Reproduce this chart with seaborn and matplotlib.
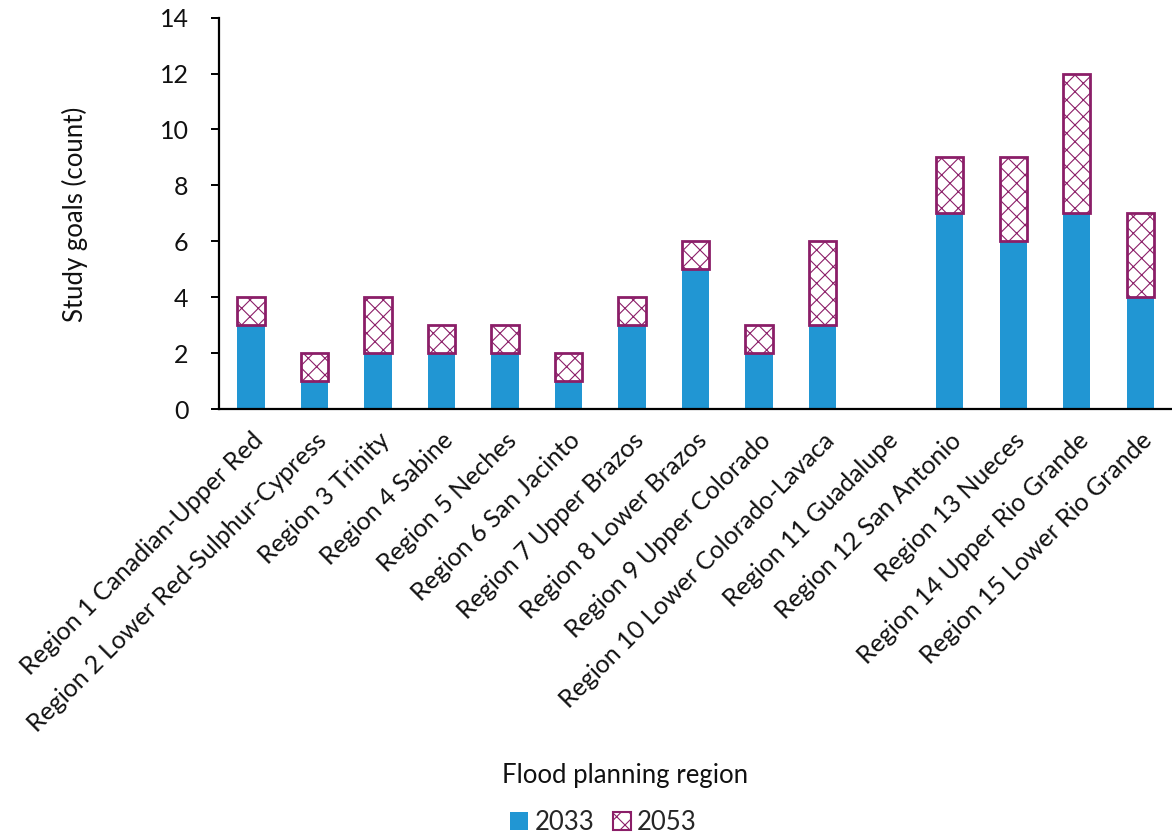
import matplotlib
matplotlib.use("Agg")
import matplotlib.pyplot as plt
from matplotlib.patches import Patch
import seaborn as sns
import pandas as pd

regions = [
    "Region 1 Canadian-Upper Red",
    "Region 2 Lower Red-Sulphur-Cypress",
    "Region 3 Trinity",
    "Region 4 Sabine",
    "Region 5 Neches",
    "Region 6 San Jacinto",
    "Region 7 Upper Brazos",
    "Region 8 Lower Brazos",
    "Region 9 Upper Colorado",
    "Region 10 Lower Colorado-Lavaca",
    "Region 11 Guadalupe",
    "Region 12 San Antonio",
    "Region 13 Nueces",
    "Region 14 Upper Rio Grande",
    "Region 15 Lower Rio Grande",
]
goals_2033 = [3, 1, 2, 2, 2, 1, 3, 5, 2, 3, 0, 7, 6, 7, 4]
goals_2053 = [1, 1, 2, 1, 1, 1, 1, 1, 1, 3, 0, 2, 3, 5, 3]
series_names = ["2033", "2053"]

BLUE = "#2196D3"
PURPLE = "#8B1E68"
TEXT = "#111111"

sns.set_theme(style="white")
plt.rcParams["font.family"] = ["Lato", "DejaVu Sans"]
plt.rcParams["hatch.color"] = PURPLE
plt.rcParams["hatch.linewidth"] = 0.8

df = pd.DataFrame({"region": regions, "y2033": goals_2033, "y2053": goals_2053})

fig = plt.figure(figsize=(11.72, 8.4), dpi=100)
ax = fig.add_axes([0.187, 0.513, 0.813, 0.466])

width = 0.43
sns.barplot(data=df, x="region", y="y2033", color=BLUE, saturation=1,
            width=width, edgecolor="none", linewidth=0, ax=ax)

# upper segment stacked on the 2033 bars, on the same categorical positions
positions = range(len(regions))
ax.bar(positions, df["y2053"], bottom=df["y2033"], width=width,
       facecolor="white", edgecolor=PURPLE, linewidth=2, hatch="xx")

ax.set_ylim(0, 14)
ax.set_yticks(range(0, 15, 2))
ax.set_xlim(-0.5, len(regions) - 0.5)

for side in ["top", "right"]:
    ax.spines[side].set_visible(False)
for side in ["left", "bottom"]:
    ax.spines[side].set_color("black")
    ax.spines[side].set_linewidth(1.6)

ax.tick_params(axis="y", which="major", left=True, length=6, width=1.4,
               color="black", labelsize=18, pad=16, labelcolor=TEXT)
ax.tick_params(axis="x", bottom=False, labelsize=18, pad=8, labelcolor=TEXT)
plt.setp(ax.get_xticklabels(), rotation=45, ha="right", rotation_mode="anchor")

ax.set_ylabel("")
ax.set_xlabel("")
fig.text(0.064, 0.745, "Study goals (count)", fontsize=18.5, rotation=90,
         ha="center", va="center", color=TEXT)
fig.text(0.533, 0.077, "Flood planning region", fontsize=18.5, ha="center",
         va="center", color=TEXT)

handles = [
    Patch(facecolor=BLUE, edgecolor="none", label=series_names[0]),
    Patch(facecolor="white", edgecolor=PURPLE, hatch="xx", linewidth=1.5,
          label=series_names[1]),
]
fig.legend(handles=handles, loc="center", bbox_to_anchor=(0.515, 0.021), ncol=2,
           frameon=False, fontsize=18.5, handlelength=0.7, handleheight=0.7,
           handletextpad=0.25, columnspacing=0.7, borderpad=0.2)

fig.savefig("out.png", dpi=100)
